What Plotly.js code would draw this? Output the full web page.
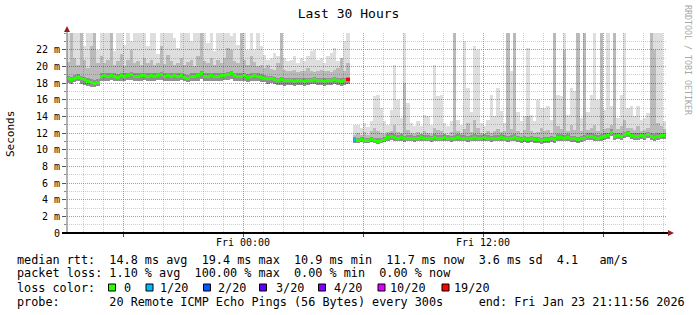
<!DOCTYPE html>
<html><head><meta charset="utf-8">
<script src="https://cdn.plot.ly/plotly-3.0.1.min.js"></script>
<style>html,body{margin:0;padding:0;background:#fff;}#chart{width:697px;height:315px;}</style>
</head><body><div id="chart"></div>
<script>
// ---- data (milliseconds), 10-minute bins starting Thu 2026-01-22 15:15 ----
const binStart = '2026-01-22 15:15:00';
const binMinutes = 10;
const rangeStart = '2026-01-22 15:11:56';
const rangeEnd = '2026-01-23 21:11:56';

// segment 1 (bins 0-84)
const med1 = [18.5,18.4,18.6,18.7,18.5,18.4, 18.2,18.1,18.0,18.1,
  18.8,18.9,18.8,18.9,18.8,18.7,18.9,18.8,18.9,19.0,18.8,
  18.8,18.9,18.9,18.8,18.9,18.8,18.9,19.0,18.8,18.9,
  18.8,18.9,18.8,18.9,18.7,18.6,18.8,18.8,18.9,19.1,
  18.8,18.8,18.9,18.8,18.8,18.9,18.9,19.0,19.1,18.9,
  18.8,18.8,18.9,18.7,18.8,18.9,18.8,18.7,
  18.6,18.5,18.5,18.4,18.3,18.4,18.3,18.3,
  18.3,18.2,18.3,18.3,18.2,18.3,18.3,18.4,18.3,18.3,18.2,18.3,18.3,18.4,18.3,18.2,18.3,18.4];
const lo1 = [18.0,17.9,18.1,18.2,17.9,17.8, 17.6,17.5,17.5,17.6,
  18.3,18.3,18.2,18.4,18.3,18.2,18.3,18.2,18.4,18.4,18.3,
  18.2,18.3,18.4,18.2,18.3,18.3,18.4,18.4,18.2,18.3,
  18.3,18.3,18.2,18.4,18.2,18.1,18.2,18.3,18.3,18.5,
  18.2,18.3,18.3,18.2,18.3,18.3,18.4,18.4,18.5,18.3,
  18.2,18.3,18.3,18.1,18.2,18.3,18.2,18.1,
  18.1,17.9,18.0,17.9,17.8,17.8,17.7,17.8,
  17.8,17.7,17.8,17.8,17.7,17.8,17.9,17.9,17.8,17.8,17.7,17.8,17.8,17.9,17.8,17.7,17.8,17.9];
const mid1 = [20.5,25,21.0,20.2,25,20.8, 19.8,22.5,25,20.4,
  21.2,20.4,20.8,25,20.2,20.6,21.5,20.0,20.8,22.0,20.4,
  20.6,20.2,21.0,20.4,20.8,20.2,20.4,22.4,20.3,21.4,
  20.6,20.2,20.4,21.0,20.2,20.5,20.8,20.0,21.2,25,
  20.6,20.4,21.0,20.2,20.8,20.4,21.0,22.2,22.0,20.6,
  20.4,24.0,20.8,20.2,21.2,20.5,20.0,20.2,
  19.8,20.2,19.7,19.6,20.4,25,19.6,19.4,
  19.4,19.6,19.3,19.5,19.4,19.8,19.5,19.3,19.4,19.6,19.5,19.4,19.3,19.6,19.8,21.0,19.4,20.4];
const hi1 = [25,25,25,25,25,22.4, 25,25,25,22.0,
  25,25,25,25,21.8,25,25,22.6,25,23.0,25,
  25,25,25,22.5,25,25,21.5,25,25,25,
  25,23.4,22.2,25,25,24.0,23.0,25,25,25,
  25,22.8,25,21.8,25,25,25,25,23.6,25,
  22.6,25,25,22.0,25,22.0,25,22.4,
  21.4,20.8,21.0,21.6,21.2,25,21.0,20.6,
  20.8,21.2,20.4,21.0,20.6,21.2,21.8,22.0,20.8,21.0,20.4,21.2,21.6,22.2,20.6,21.0,23.0,25];

// segment 2 (bins 86-179), bin 85 has no data
const med2 = [11.2,11.1,11.2,11.1,11.1,11.2,11.1,11.0,11.1,11.2,
  11.5,11.6,11.5,11.4,11.5,11.3,11.4,11.4,11.3,
  11.4,11.5,11.4,11.4,11.3,11.5,11.4,11.4,11.5,11.4,11.3,11.4,11.5,11.4,11.4,11.3,11.4,11.5,11.4,11.4,11.5,11.4,11.3,11.4,11.4,11.5,
  11.4,11.3,11.4,11.5,11.3,11.2,11.3,11.2,11.3,11.2,
  11.2,11.1,11.2,11.2,11.3,11.2,11.5,11.5,11.4,11.5,
  11.3,11.3,11.2,11.3,11.4,11.6,11.6,11.5,11.4,11.5,
  11.6,11.7,12.1,11.6,11.7,11.6,11.8,11.9,11.7,11.6,11.6,11.7,11.6,11.8,11.6,11.5,11.6,11.7,11.7];
const lo2 = [10.8,10.8,10.9,10.8,10.8,10.9,10.8,10.7,10.8,10.9,
  11.1,11.2,11.1,11.0,11.1,10.9,11.0,11.0,10.9,
  11.0,11.1,11.0,11.0,10.9,11.1,11.0,11.0,11.1,11.0,10.9,11.0,11.1,11.0,11.0,10.9,11.0,11.1,11.0,11.0,11.1,11.0,10.9,11.0,11.0,11.1,
  11.0,10.9,11.0,11.1,10.9,10.8,10.9,10.8,10.9,10.8,
  10.8,10.7,10.8,10.8,10.9,10.8,11.1,11.1,11.0,11.1,
  10.9,10.9,10.8,10.9,11.0,11.2,11.2,11.1,11.0,11.1,
  11.2,11.3,11.6,11.2,11.3,11.2,11.4,11.5,11.3,11.2,11.2,11.3,11.2,11.4,11.2,11.1,11.2,11.3,11.3];
const mid2 = [11.8,12.0,11.8,12.1,11.8,12.2,12.6,12.3,12.0,11.9,
  12.1,12.3,13.0,12.1,12.0,18.0,12.4,12.0,11.9,
  12.1,11.9,12.3,12.0,11.9,12.6,12.4,12.3,11.9,11.8,12.1,25,12.2,12.0,12.5,13.2,12.1,13.6,12.6,12.0,11.9,12.2,12.0,12.3,12.5,12.1,
  12.3,24.0,12.5,25,12.3,12.0,12.4,14.0,12.2,12.0,
  12.1,12.6,12.2,12.4,12.0,25,12.8,12.5,22.0,12.2,
  13.0,12.4,25,12.2,25,12.4,12.6,13.0,12.3,25,
  12.5,12.6,13.0,25,12.5,12.8,13.6,12.6,12.6,12.4,12.8,12.3,12.4,12.6,25,22.0,13.2,12.8,12.5];
const hi2 = [13.0,13.0,12.6,13.2,12.7,13.5,16.5,16.6,15.0,13.4,
  13.0,14.8,20.2,16.0,13.8,25,15.6,13.2,12.8,
  13.4,12.9,14.2,14.0,13.0,20.2,16.4,16.6,13.2,12.9,13.4,25,13.6,13.0,23.0,17.4,14.5,22.5,22.0,13.2,12.8,13.6,16.6,14.0,17.4,14.6,
  13.2,25,19.4,25,14.5,13.4,14.0,22.2,14.2,13.5,
  16.0,15.0,15.0,15.2,13.6,25,16.6,16.4,25,14.2,
  17.4,17.0,25,13.8,25,14.5,16.6,25,16.0,25,
  14.8,25,15.2,25,13.8,16.6,25,15.0,15.2,14.0,15.2,13.6,13.8,14.4,25,25,25,25,13.4];

// packet loss (lost pings of 20) for the bins that had loss
const lossBinIdx = [84, 86];
const lossCount = [19, 1];

// loss colour legend
const lossLevels = [0, 1, 2, 3, 4, 10, 19];
const lossLabels = ['0', '1/20', '2/20', '3/20', '4/20', '10/20', '19/20'];
const lossColors = ['#26ff00', '#00b8ff', '#0059ff', '#5e00ff', '#7e00ff', '#dd00ff', '#ff0000'];

// axis ticks
const yTickVals = [0,2,4,6,8,10,12,14,16,18,20,22];
const yTickText = ['0','2 m','4 m','6 m','8 m','10 m','12 m','14 m','16 m','18 m','20 m','22 m'];
const xTickVals = ['2026-01-22 18:00:00','2026-01-23 00:00:00','2026-01-23 06:00:00','2026-01-23 12:00:00','2026-01-23 18:00:00'];
const xTickText = ['', 'Fri 00:00', '', 'Fri 12:00', ''];

// legend texts
const legendLines = [
  'median rtt:  14.8 ms avg  19.4 ms max  10.9 ms min  11.7 ms now  3.6 ms sd  4.1   am/s',
  'packet loss: 1.10 % avg  100.00 % max  0.00 % min  0.00 % now',
  'loss color:',
  'probe:       20 Remote ICMP Echo Pings (56 Bytes) every 300s     end: Fri Jan 23 21:11:56 2026'
];

// ---- build ----
const med = med1.concat([null], med2);
const lo = lo1.concat([null], lo2);
const mid = mid1.concat([null], mid2);
const hi = hi1.concat([null], hi2);
const n = med.length;
const t0 = new Date(binStart.replace(' ', 'T') + 'Z').getTime();
const fmt = d => d.toISOString().slice(0, 19).replace('T', ' ');
const times = [];
for (let i = 0; i < n; i++) times.push(fmt(new Date(t0 + i * binMinutes * 60000)));
const loss = med.map(() => 0);
lossBinIdx.forEach((b, k) => { loss[b] = lossCount[k]; });
function lossColor(c) {
  let col = lossColors[0];
  lossLevels.forEach((lv, k) => { if (c >= lv) col = lossColors[k]; });
  return col;
}
const span = (top, bot) => top.map((v, i) => (v == null || bot[i] == null) ? null : v - bot[i]);
const barW = binMinutes * 60000;

const traces = [
  { type: 'bar', x: times, base: lo, y: span(hi, lo), width: barW,
    marker: { color: 'rgba(0,0,0,0.13)', line: { width: 0 } }, hoverinfo: 'skip' },
  { type: 'bar', x: times, base: lo, y: span(mid, lo), width: barW,
    marker: { color: 'rgba(0,0,0,0.16)', line: { width: 0 } }, hoverinfo: 'skip' },
  { type: 'bar', x: times, base: lo, y: med.map((v, i) => v == null ? null : v + 0.35 - lo[i]), width: barW,
    marker: { color: 'rgba(0,0,0,0.22)', line: { width: 0 } }, hoverinfo: 'skip' },
  { type: 'bar', x: times, base: med.map(v => v == null ? null : v - 0.18), y: med.map(v => v == null ? null : 0.36), width: barW,
    marker: { color: med.map((v, i) => lossColor(loss[i])), line: { width: 0 } }, hoverinfo: 'skip' }
];

// pixel helpers (plot area 67..667 x 33..233)
const L = 67, T = 33, W = 600, H = 200;
const px = x => (x - L) / W;
const py = y => (233 - y) / H;

const mono = 'DejaVu Sans Mono';
const nb = s => s.replace(/ /g, '\u00A0');

const shapes = [
  { type: 'line', xref: 'paper', yref: 'paper', x0: px(67), x1: px(67), y0: py(233), y1: py(29), line: { color: '#666', width: 1 }, layer: 'above' },
  { type: 'line', xref: 'paper', yref: 'paper', x0: px(62), x1: px(669), y0: py(233), y1: py(233), line: { color: '#000', width: 2 }, layer: 'above' },
  { type: 'path', xref: 'paper', yref: 'paper', path: `M ${px(67)} ${py(26)} L ${px(64)} ${py(32)} L ${px(70)} ${py(32)} Z`, fillcolor: '#962020', line: { width: 0 }, layer: 'above' },
  { type: 'path', xref: 'paper', yref: 'paper', path: `M ${px(674)} ${py(233)} L ${px(668)} ${py(230)} L ${px(668)} ${py(236)} Z`, fillcolor: '#962020', line: { width: 0 }, layer: 'above' }
];
const boxX = [108.5, 146, 203.5, 259.5, 318.5, 378, 442];
const labelX = [122.5, 158.5, 216.5, 274.5, 332.5, 388.5, 453];
boxX.forEach((bx, k) => {
  shapes.push({ type: 'rect', xref: 'paper', yref: 'paper', x0: px(bx), x1: px(bx + 7), y0: py(291), y1: py(284),
    fillcolor: lossColors[k], line: { color: '#000', width: 1 } });
});

const annotations = [];
const lineY = [259.5, 273, 287.5, 301.5];
legendLines.forEach((s, k) => {
  annotations.push({ xref: 'paper', yref: 'paper', x: px(15.7), y: py(lineY[k]), xanchor: 'left', yanchor: 'middle',
    text: nb(s), showarrow: false, font: { family: mono, size: 11.8, color: '#000' }, borderpad: 0 });
});
labelX.forEach((lx, k) => {
  annotations.push({ xref: 'paper', yref: 'paper', x: px(lx), y: py(lineY[2]), xanchor: 'left', yanchor: 'middle',
    text: lossLabels[k], showarrow: false, font: { family: mono, size: 11.8, color: '#000' }, borderpad: 0 });
});
annotations.push({ xref: 'paper', yref: 'paper', x: px(10), y: py(134), xanchor: 'center', yanchor: 'middle',
  text: 'Seconds', textangle: -90, showarrow: false, font: { family: mono, size: 11, color: '#000' } });
annotations.push({ xref: 'paper', yref: 'paper', x: px(688), y: py(60), xanchor: 'center', yanchor: 'middle',
  text: 'RRDTOOL / TOBI OETIKER', textangle: 90, showarrow: false, font: { family: mono, size: 8.3, color: '#a8a8a8' } });

const majorGrid = 'rgba(225,80,80,0.55)';
const minorGrid = 'rgba(130,130,130,0.4)';

const layout = {
  width: 697, height: 315,
  margin: { l: L, r: 697 - L - W, t: T, b: 315 - 233, pad: 0 },
  paper_bgcolor: '#fff', plot_bgcolor: '#fff',
  barmode: 'overlay', bargap: 0, showlegend: false, hovermode: false,
  font: { family: mono, size: 10, color: '#000' },
  title: { text: 'Last 30 Hours', font: { family: mono, size: 13, color: '#000' },
    x: 0.5, xref: 'container', xanchor: 'center', y: 1 - 13.5 / 315, yref: 'container', yanchor: 'middle' },
  xaxis: { type: 'date', range: [rangeStart, rangeEnd], tickmode: 'array', tickvals: xTickVals, ticktext: xTickText,
    showgrid: true, gridcolor: majorGrid, griddash: '1px,1px', gridwidth: 1,
    minor: { tickmode: 'linear', tick0: '2026-01-23 00:00:00', dtick: 3600000, showgrid: true, gridcolor: minorGrid, griddash: '1px,1px', ticks: '' },
    showline: false, zeroline: false, ticks: 'outside', ticklen: 3, tickcolor: '#555', ticklabelstandoff: -3,
    tickfont: { family: mono, size: 10, color: '#000' }, fixedrange: true },
  yaxis: { range: [0, 24], tickmode: 'array', tickvals: yTickVals, ticktext: yTickText,
    showgrid: true, gridcolor: majorGrid, griddash: '1px,1px', gridwidth: 1,
    minor: { tickmode: 'linear', tick0: 0, dtick: 1, showgrid: true, gridcolor: minorGrid, griddash: '1px,1px', ticks: 'outside', ticklen: 2, tickcolor: '#888' },
    showline: false, zeroline: false, ticks: 'outside', ticklen: 4, tickcolor: '#555', tickfont: { family: mono, size: 10, color: '#000' }, fixedrange: true },
  shapes: shapes,
  annotations: annotations
};

Plotly.newPlot('chart', traces, layout, { staticPlot: true, displayModeBar: false });
</script>
</body></html>
